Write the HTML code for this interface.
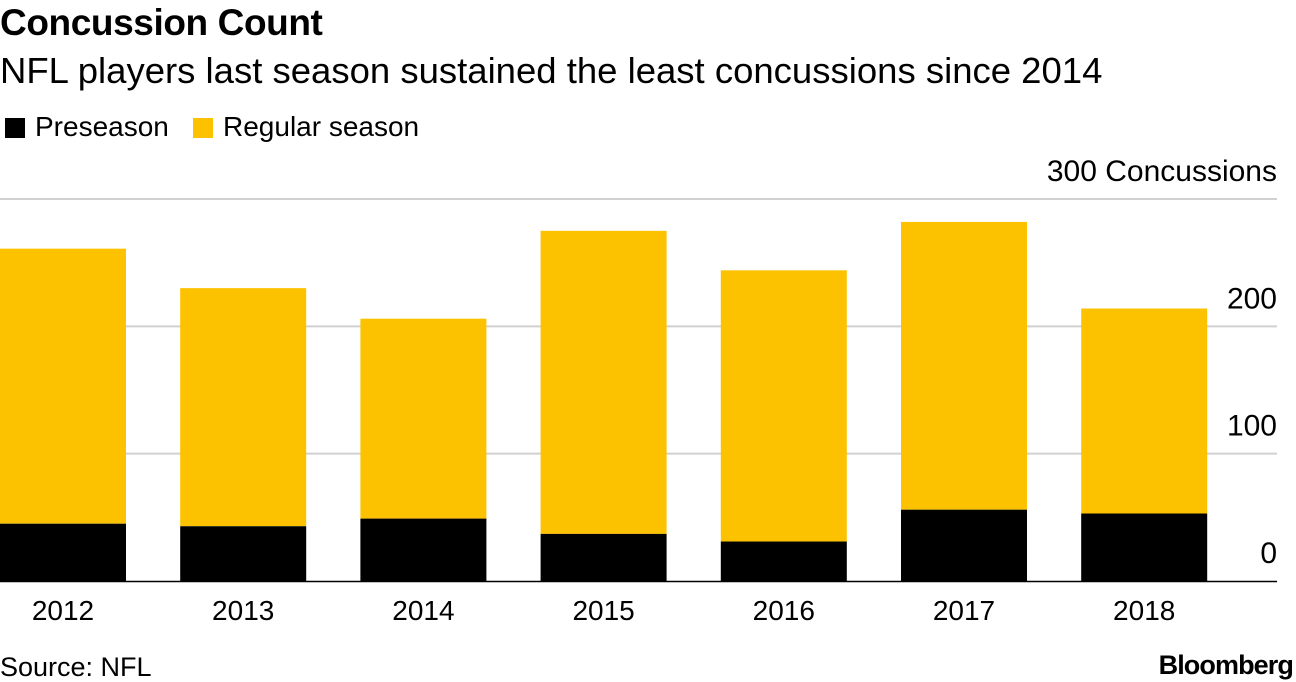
<!DOCTYPE html>
<html><head><meta charset="utf-8"><style>
body{margin:0;width:1296px;height:678px;background:#fff;font-family:"Liberation Sans",sans-serif;position:relative;overflow:hidden}
.t{position:absolute;white-space:nowrap;color:#000;line-height:1}
</style></head><body>
<div class="t" style="left:0;top:4px;font-size:37px;font-weight:bold;letter-spacing:-0.4px">Concussion Count</div>
<div class="t" style="left:0;top:53px;font-size:36.5px;letter-spacing:0px">NFL players last season sustained the least concussions since 2014</div>
<div class="t" style="left:5px;top:113px;font-size:28px"><span style="display:inline-block;width:20px;height:20px;background:#000;vertical-align:-2px;margin-right:10px"></span>Preseason</div>
<div class="t" style="left:193px;top:113px;font-size:28px"><span style="display:inline-block;width:20px;height:20px;background:#fcc200;vertical-align:-2px;margin-right:10px"></span>Regular season</div>
<svg id="c" width="1296" height="678" style="position:absolute;left:0;top:0"></svg>
<div class="t" style="left:0;top:654px;font-size:27px">Source: NFL</div>
<div class="t" style="right:3px;top:652px;font-size:27px;font-weight:bold;letter-spacing:-0.9px">Bloomberg</div>
<script>
const categories=["2012","2013","2014","2015","2016","2017","2018"];
const preseason=[45,43,49,37,31,56,53];
const regular=[216,187,157,238,213,226,161];
const ticks=[0,100,200,300];
const ns="http://www.w3.org/2000/svg",svg=document.getElementById('c');
const y0=581,pxPer=1.2733;
const y=v=>y0-v*pxPer;
const x=i=>i*180.2;
function mk(t,a){const e=document.createElementNS(ns,t);for(const k in a)e.setAttribute(k,a[k]);svg.appendChild(e);return e;}
ticks.forEach(v=>{
 if(v>0){const l=mk('line',{x1:0,x2:1277,y1:y(v),y2:y(v),stroke:'#d0d0d0','stroke-width':2});
 
 }
 const t=mk('text',{x:1277,y:y(v)-18,'text-anchor':'end','font-size':30,'font-family':'Liberation Sans, sans-serif'});
 t.textContent=v===300?'300 Concussions':String(v);
 
 
});
categories.forEach((c,i)=>{
 const tot=preseason[i]+regular[i];
 const r=mk('rect',{x:x(i),y:y(tot),width:126,height:y(preseason[i])-y(tot),fill:'#fcc200'});
 
 
 const p=mk('rect',{x:x(i),y:y(preseason[i]),width:126,height:y0-y(preseason[i]),fill:'#000'});
 
 
 const t=mk('text',{x:x(i)+63,y:620,'text-anchor':'middle','font-size':28,'font-family':'Liberation Sans, sans-serif'});
 t.textContent=c;
 
 
});
const b=mk('line',{x1:0,x2:1277,y1:y0+0.5,y2:y0+0.5,stroke:'#000','stroke-width':1.5});


</script>
</body></html>
